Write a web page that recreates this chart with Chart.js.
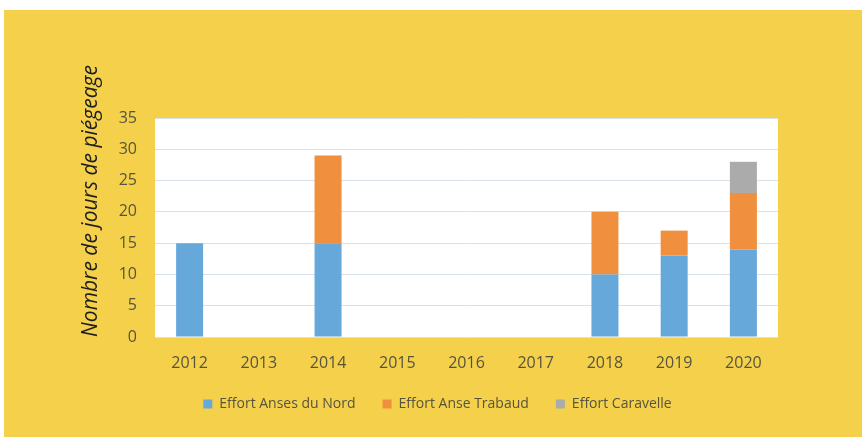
<!DOCTYPE html>
<html>
<head>
<meta charset="utf-8">
<script src="https://cdn.jsdelivr.net/npm/chart.js@4/dist/chart.umd.min.js"></script>
<style>
  html, body { margin: 0; padding: 0; background: #ffffff; }
  #wrap { position: relative; width: 862px; height: 437px; }
  canvas { display: block; }
</style>
</head>
<body>
<div id="wrap"><canvas id="c" width="862" height="437"></canvas></div>
<script>
const categories = ['2012', '2013', '2014', '2015', '2016', '2017', '2018', '2019', '2020'];
const seriesNames = ['Effort Anses du Nord', 'Effort Anse Trabaud', 'Effort Caravelle'];
const ansesDuNord = [15, 0, 15, 0, 0, 0, 10, 13, 14];
const anseTrabaud = [0, 0, 14, 0, 0, 0, 10, 4, 9];
const caravelle = [0, 0, 0, 0, 0, 0, 0, 0, 5];
const yTicks = [0, 5, 10, 15, 20, 25, 30, 35];
const yTitle = 'Nombre de jours de piégeage';

const colors = ['#67a8db', '#f08f3e', '#ababab'];
const tickColor = '#57543d';

const bgPlugin = {
  id: 'bg',
  beforeDraw(chart) {
    const ctx = chart.ctx;
    const a = chart.chartArea;
    ctx.save();
    ctx.fillStyle = '#ffffff';
    ctx.fillRect(0, 0, chart.width, chart.height);
    ctx.fillStyle = '#f4d04b';
    ctx.fillRect(4, 10, chart.width - 4, chart.height - 10);
    ctx.fillStyle = '#ffffff';
    ctx.fillRect(a.left, a.top, a.right - a.left, a.bottom - a.top + 1);
    ctx.restore();
  },
  afterDraw(chart) {
    const ctx = chart.ctx;
    ctx.save();
    ctx.translate(91, 201);
    ctx.rotate(-Math.PI / 2);
    ctx.font = 'italic 21px "Open Sans"';
    ctx.fillStyle = '#1e1e1e';
    ctx.textAlign = 'center';
    ctx.textBaseline = 'middle';
    ctx.fillText(yTitle, 0, 0);
    ctx.restore();
  }
};

new Chart(document.getElementById('c'), {
  type: 'bar',
  data: {
    labels: categories,
    datasets: [
      { label: seriesNames[0], data: ansesDuNord, backgroundColor: colors[0] },
      { label: seriesNames[1], data: anseTrabaud, backgroundColor: colors[1] },
      { label: seriesNames[2], data: caravelle, backgroundColor: colors[2] }
    ]
  },
  options: {
    responsive: false,
    animation: false,
    devicePixelRatio: 1,
    layout: { padding: { left: 97, right: 84, top: 118, bottom: 16 } },
    datasets: { bar: { categoryPercentage: 1, barPercentage: 0.39 } },
    plugins: {
      legend: {
        position: 'bottom',
        labels: {
          boxWidth: 9,
          boxHeight: 9,
          padding: 27,
          color: tickColor,
          font: { family: '"Open Sans"', size: 14 }
        }
      },
      tooltip: { enabled: false }
    },
    scales: {
      x: {
        stacked: true,
        afterFit(scale) { scale.height = 33; },
        grid: { display: false, drawTicks: false },
        border: { display: false },
        ticks: { color: tickColor, padding: 17, font: { family: '"Open Sans"', size: 16 } }
      },
      y: {
        stacked: true,
        min: 0,
        max: 35,
        afterFit(scale) { scale.width = 58; },
        afterBuildTicks(scale) { scale.ticks = yTicks.map(v => ({ value: v })); },
        grid: { color: '#d8e1ea', lineWidth: 1, drawTicks: false },
        border: { display: false },
        ticks: { color: tickColor, padding: 18, font: { family: '"Open Sans"', size: 16 } }
      }
    }
  },
  plugins: [bgPlugin]
});
</script>
</body>
</html>
